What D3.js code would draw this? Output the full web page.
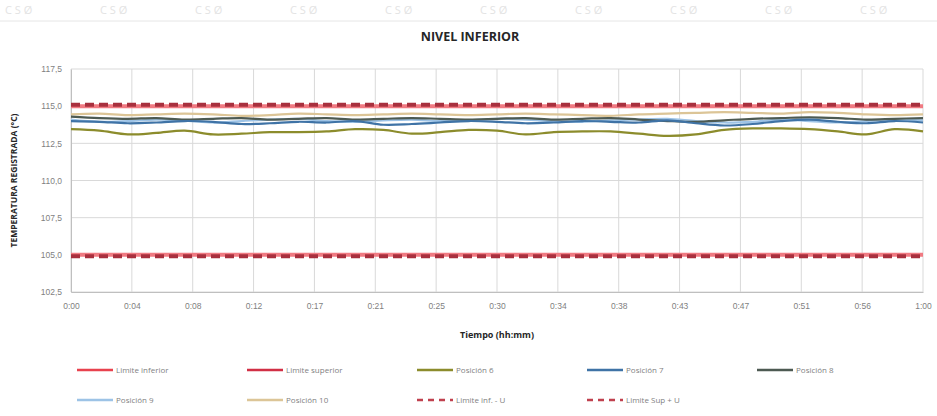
<!DOCTYPE html>
<html>
<head>
<meta charset="utf-8">
<script src="https://cdn.jsdelivr.net/npm/d3@7"></script>
<style>
	body { margin: 0; background: #fff; }
	svg { font-family: "Open Sans", "DejaVu Sans", sans-serif; }
</style>
</head>
<body>
<svg id="chart" width="937" height="416"></svg>
<script>
// tiempo en minutos (0..60)
const minutes = [0,2,4,6,8,10,12,14,16,18,20,22,24,26,28,30,32,34,36,38,40,42,44,46,48,50,52,54,56,58,60];

const pos6  = [113.45,113.35,113.1,113.2,113.35,113.1,113.15,113.25,113.25,113.3,113.45,113.4,113.15,113.25,113.4,113.35,113.1,113.25,113.3,113.3,113.15,113.0,113.1,113.4,113.5,113.5,113.45,113.3,113.1,113.45,113.3];
const pos7  = [114.0,113.95,113.85,113.9,114.0,113.95,113.8,113.85,113.95,113.9,114.0,113.75,113.8,113.9,114.0,113.95,113.85,113.9,114.0,113.95,113.9,114.05,113.85,113.7,113.8,114.0,114.1,113.95,113.85,114.0,113.9];
const pos8  = [114.3,114.2,114.15,114.2,114.1,114.15,114.2,114.1,114.15,114.2,114.1,114.15,114.2,114.15,114.1,114.15,114.2,114.1,114.15,114.2,114.1,114.0,113.95,114.05,114.15,114.2,114.25,114.2,114.1,114.15,114.2];
const pos9  = [114.1,113.95,114.0,114.1,114.05,113.9,114.0,114.1,114.15,114.0,113.95,114.05,114.1,114.0,114.05,114.15,114.1,114.0,113.95,114.05,114.1,114.15,114.0,113.9,113.95,114.1,114.0,113.9,114.0,114.1,114.05];
const pos10 = [114.45,114.5,114.4,114.45,114.5,114.45,114.35,114.4,114.5,114.45,114.4,114.45,114.5,114.45,114.4,114.45,114.5,114.45,114.4,114.35,114.45,114.5,114.55,114.6,114.55,114.5,114.6,114.55,114.45,114.4,114.45];

const limiteInferior = 105.0;
const limiteSuperior = 115.0;
const limiteInfMenosU = 104.9;
const limiteSupMasU = 115.1;

const xTickLabels = ["0:00","0:04","0:08","0:12","0:17","0:21","0:25","0:30","0:34","0:38","0:43","0:47","0:51","0:56","1:00"];
const yTicks = [102.5,105,107.5,110,112.5,115,117.5];

const svg = d3.select("#chart"),
	margin = {left: 71, right: 14, top: 69, bottom: 124},
	width = 937, height = 416,
	x = d3.scaleLinear().domain([0, 60]).range([margin.left, width - margin.right]),
	y = d3.scaleLinear().domain([102.5, 117.5]).range([height - margin.bottom, margin.top]);

// marca de agua
const wm = svg.append("g").attr("fill", "#e3e3e3").attr("font-size", 11);
d3.range(0, 937, 95).forEach(function(px){
	wm.append("text").attr("x", px + 5).attr("y", 14).text("C  S  Ø");
});
svg.append("line").attr("x1", 0).attr("x2", width).attr("y1", 21).attr("y2", 21)
	.attr("stroke", "#e6e6e6");

// titulo
svg.append("text").attr("x", 470).attr("y", 41).attr("text-anchor", "middle")
	.attr("font-size", 12.5).attr("font-weight", "bold").attr("fill", "#262626")
	.text("NIVEL INFERIOR");

// rejilla
const xTickVals = xTickLabels.map((d, i) => i * 60 / 14);
svg.append("g").selectAll("line").data(yTicks).enter().append("line")
	.attr("x1", x(0)).attr("x2", x(60))
	.attr("y1", d => y(d)).attr("y2", d => y(d))
	.attr("stroke", "#d9d9d9").attr("stroke-width", 1);
svg.append("g").selectAll("line").data(xTickVals).enter().append("line")
	.attr("y1", y(102.5)).attr("y2", y(117.5))
	.attr("x1", d => x(d)).attr("x2", d => x(d))
	.attr("stroke", "#d9d9d9").attr("stroke-width", 1);

// ejes
const xAxis = d3.axisBottom(x).tickValues(xTickVals).tickSize(0).tickPadding(11)
	.tickFormat((d, i) => xTickLabels[i]);
const gx = svg.append("g").attr("transform", "translate(0," + y(102.5) + ")").call(xAxis);
gx.select(".domain").attr("stroke", "#bfbfbf");
gx.selectAll("text").attr("font-size", 8.5).attr("fill", "#7f7f7f");

const yAxis = d3.axisLeft(y).tickValues(yTicks).tickSize(0).tickPadding(9)
	.tickFormat(d => d3.format(".1f")(d).replace(".", ","));
const gy = svg.append("g").attr("transform", "translate(" + x(0) + ",0)").call(yAxis);
gy.select(".domain").attr("stroke", "#bfbfbf");
gy.selectAll("text").attr("font-size", 8.5).attr("fill", "#7f7f7f");

// titulos de ejes
svg.append("text").attr("transform", "translate(17," + y(110) + ") rotate(-90)")
	.attr("text-anchor", "middle").attr("font-size", 8.5).attr("font-weight", "bold").attr("fill", "#262626")
	.text("TEMPERATURA REGISTRADA (°C)");
svg.append("text").attr("x", 497).attr("y", 338).attr("text-anchor", "middle")
	.attr("font-size", 9).attr("font-weight", "bold").attr("fill", "#262626")
	.text("Tiempo (hh:mm)");

// series
const series = [
	{name: "Posición 10", values: pos10, color: "#dcc597", width: 2.2},
	{name: "Posición 9", values: pos9, color: "#9dc3e6", width: 2.2},
	{name: "Posición 8", values: pos8, color: "#4d5a52", width: 2.2},
	{name: "Posición 7", values: pos7, color: "#3f73a6", width: 2.2},
	{name: "Posición 6", values: pos6, color: "#8c8c2c", width: 2.2}
];
const line = d3.line().x(d => x(d[0])).y(d => y(d[1])).curve(d3.curveCatmullRom);

const limits = [
	{name: "Limite inferior", v: limiteInferior, color: "#f07a82", width: 4, dash: null},
	{name: "Limite superior", v: limiteSuperior, color: "#f07a82", width: 4, dash: null},
	{name: "Limite inf. - U", v: limiteInfMenosU, color: "#a8303e", width: 4, dash: "9,5"},
	{name: "Limite Sup + U", v: limiteSupMasU, color: "#a8303e", width: 4, dash: "9,5"}
];

svg.append("g").selectAll("line").data(limits).enter().append("line")
	.attr("x1", x(0)).attr("x2", x(60))
	.attr("y1", d => y(d.v)).attr("y2", d => y(d.v))
	.attr("stroke", d => d.color).attr("stroke-width", d => d.width)
	.attr("stroke-dasharray", d => d.dash);

svg.append("g").selectAll("path").data(series).enter().append("path")
	.attr("d", d => line(minutes.map((m, i) => [m, d.values[i]])))
	.attr("fill", "none").attr("stroke", d => d.color).attr("stroke-width", d => d.width);

// leyenda
const legendItems = [
	{name: "Limite inferior", color: "#e8424e", dash: null},
	{name: "Limite superior", color: "#d12f45", dash: null},
	{name: "Posición 6", color: "#8c8c2c", dash: null},
	{name: "Posición 7", color: "#3f73a6", dash: null},
	{name: "Posición 8", color: "#4d5a52", dash: null},
	{name: "Posición 9", color: "#9dc3e6", dash: null},
	{name: "Posición 10", color: "#dcc597", dash: null},
	{name: "Limite inf. - U", color: "#c0404e", dash: "6,5"},
	{name: "Limite Sup + U", color: "#c0404e", dash: "6,5"}
];
const legend = svg.append("g").selectAll("g").data(legendItems).enter().append("g")
	.attr("transform", (d, i) => "translate(" + (77 + (i % 5) * 170) + "," + (370 + Math.floor(i / 5) * 30) + ")");
legend.append("line").attr("x1", 0).attr("x2", 36).attr("y1", 0).attr("y2", 0)
	.attr("stroke", d => d.color).attr("stroke-width", 2.5).attr("stroke-dasharray", d => d.dash);
legend.append("text").attr("x", 39).attr("y", 3).attr("font-size", 8).attr("fill", "#7f7f7f")
	.text(d => d.name);
</script>
</body>
</html>
